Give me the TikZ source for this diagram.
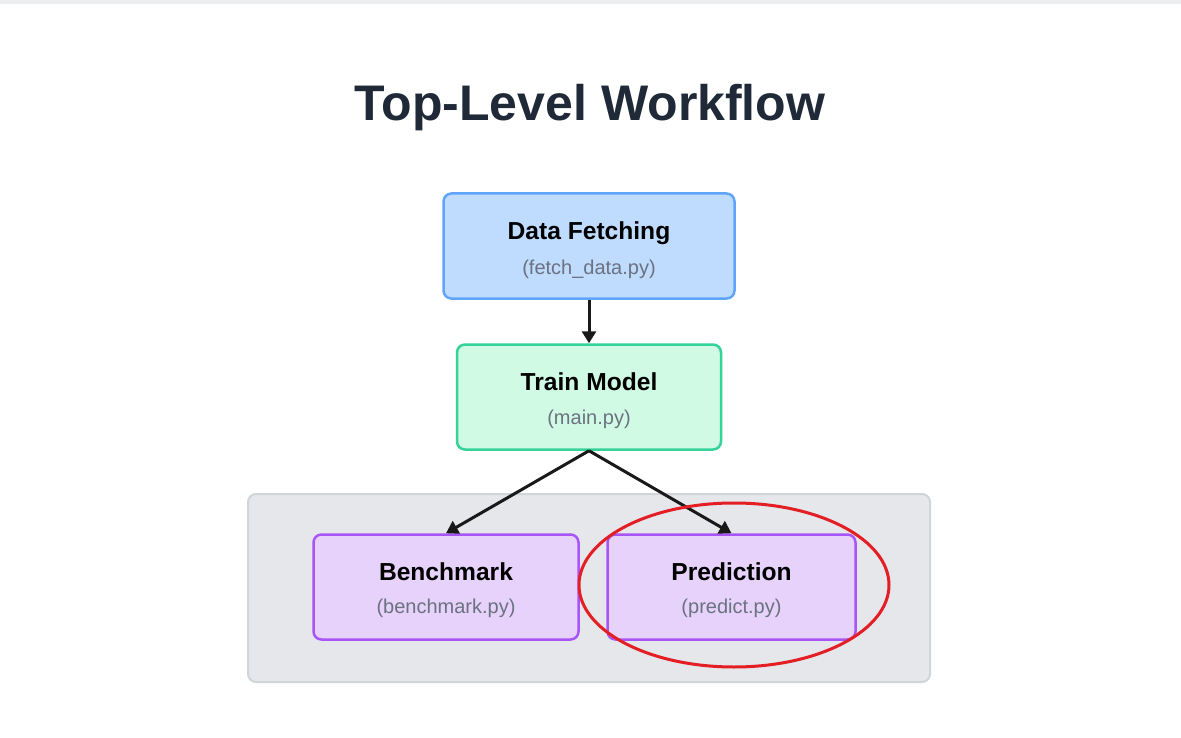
\documentclass[tikz,border=0pt]{standalone}
\usepackage{fontspec}
\setmainfont{Liberation Sans}
\usetikzlibrary{arrows.meta,shapes.geometric}
\definecolor{fetchfill}{HTML}{BFDBFE}
\definecolor{fetchline}{HTML}{60A5FA}
\definecolor{trainfill}{HTML}{D1FAE5}
\definecolor{trainline}{HTML}{34D399}
\definecolor{runfill}{HTML}{E6D2FA}
\definecolor{runline}{HTML}{A855F7}
\definecolor{groupfill}{HTML}{E5E7EB}
\definecolor{groupline}{HTML}{D1D5DB}
\definecolor{headcol}{HTML}{1F2937}
\definecolor{filecol}{HTML}{6B7280}
\definecolor{markred}{HTML}{E31E24}
\definecolor{barcol}{HTML}{EDEEF0}
\begin{document}
\begin{tikzpicture}[x=1pt,y=-1pt,
    stage/.style={draw, line width=2.5pt, rounded corners=8pt, minimum height=105pt, inner sep=0pt},
    head/.style={anchor=base, inner sep=0pt, font=\fontsize{24.6}{28}\selectfont\bfseries},
    file/.style={anchor=base, inner sep=0pt, text=filecol, font=\fontsize{20}{24}\selectfont},
    flow/.style={-{Triangle[length=12pt,width=14pt]}, line width=3pt, draw=black!90}]
  \useasboundingbox[fill=white] (0,0) rectangle (1181,738);
  \fill[barcol] (0,0) rectangle (1181,4);
  \node[font=\fontsize{50}{60}\selectfont\bfseries, text=headcol, anchor=base] (title) at (590,121) {Top-Level Workflow};
  % group behind the two run stages
  \node[draw=groupline, fill=groupfill, line width=2pt, rounded corners=8pt,
    minimum width=682pt, minimum height=188pt] (tools) at (589,588) {};
  % stages
  \node[stage, fill=fetchfill, draw=fetchline, minimum width=291pt] (fetch) at (589,246) {};
  \node[stage, fill=trainfill, draw=trainline, minimum width=264pt] (train) at (589,397) {};
  \node[stage, fill=runfill, draw=runline, minimum width=265pt] (bench) at (446,587) {};
  \node[stage, fill=runfill, draw=runline, minimum width=248pt] (predict) at (731.5,587) {};
  % texts
  \node[head] (fetch-head) at (589,240) {Data Fetching};
  \node[file] (fetch-file) at (589,274) {(fetch\_data.py)};
  \node[head] (train-head) at (589,390) {Train Model};
  \node[file] (train-file) at (589,424) {(main.py)};
  \node[head] (bench-head) at (446,580) {Benchmark};
  \node[file] (bench-file) at (446,613) {(benchmark.py)};
  \node[head] (predict-head) at (731.5,580) {Prediction};
  \node[file] (predict-file) at (731.5,613) {(predict.py)};
  % connectors
  \draw[flow] (fetch) -- (train);
  \draw[flow] (train.south) -- (bench.north);
  \draw[flow] (train.south) -- (predict.north);
  \node[ellipse, draw=markred, line width=3pt, minimum width=310pt, minimum height=164pt] (mark) at (734,585) {};
\end{tikzpicture}
\end{document}
